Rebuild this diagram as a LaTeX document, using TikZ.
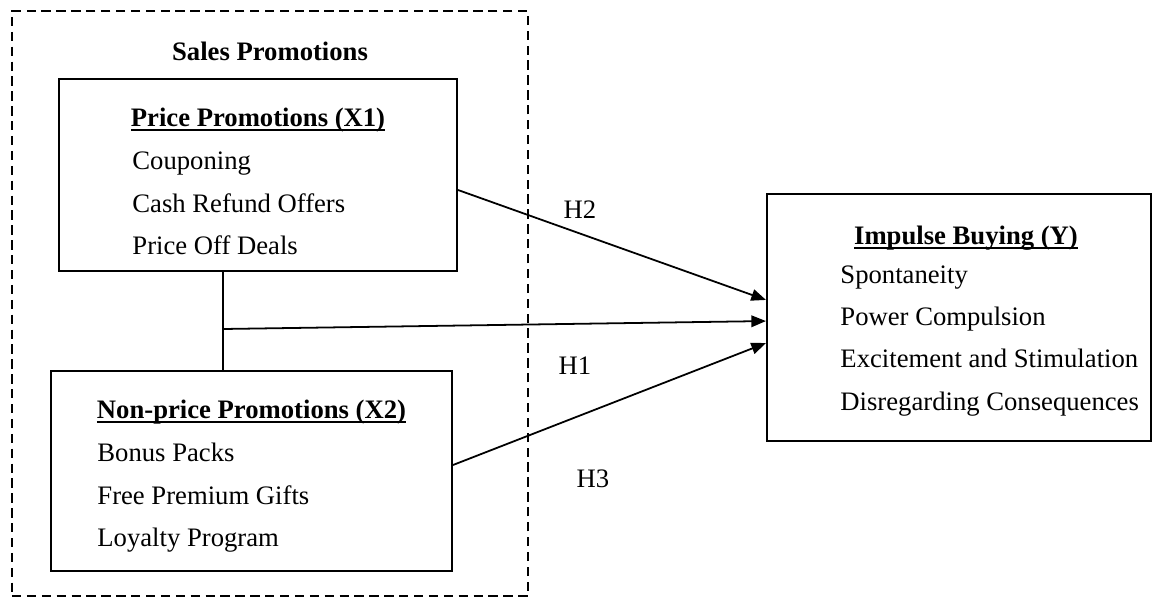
\documentclass[tikz,border=0pt]{standalone}
\usepackage{fontspec}
\setmainfont{Liberation Serif}
\usetikzlibrary{positioning,arrows.meta}

\newcommand{\headline}[1]{\setbox0\hbox{#1}\rlap{\rule[-1.9pt]{\wd0}{0.9pt}}\box0}

\begin{document}
\begin{tikzpicture}[x=0.45pt, y=-0.45pt, >={Triangle[length=6.6pt,width=5.2pt]},
	font=\fontsize{12}{19.1}\selectfont,
	box/.style={draw, line width=0.9pt, inner sep=0pt},
	group/.style={draw, dash pattern=on 4.2pt off 2.5pt, line width=0.8pt, inner sep=0pt},
	head/.style={inner sep=0pt, font=\fontsize{12}{19.1}\selectfont\bfseries},
	items/.style={inner sep=0pt, align=left},
	hyp/.style={inner sep=0pt},
	link/.style={line width=0.8pt}]
	\useasboundingbox (0,0) rectangle (1157,599);

	% Define nodes
	\node (sales) [group, minimum width=232.2pt, minimum height=263.25pt] at (270,303.5) {};
	\node (salestitle) [head, below=14pt of sales.north] {Sales Promotions};

	\node (x1) [box, minimum width=179.1pt, minimum height=86.4pt] at (258,175) {};
	\node (x1title) [head, below=13.4pt of x1.north] {\headline{Price Promotions (X1)}};
	\node (x1items) [items, below right=33.2pt and 33.3pt of x1.north west] {Couponing\\Cash Refund Offers\\Price Off Deals};

	\node (x2) [box, minimum width=180.45pt, minimum height=90pt] at (251.5,471) {};
	\node (x2title) [head, below=13.5pt of x2.north] {\headline{Non-price Promotions (X2)}};
	\node (x2items) [items, below right=32.8pt and 21.15pt of x2.north west] {Bonus Packs\\Free Premium Gifts\\Loyalty Program};

	\node (y) [box, minimum width=172.8pt, minimum height=111.15pt] at (959,317.5) {};
	\node (ytitle) [head, below=14.8pt of y.north, xshift=3.15pt] {\headline{Impulse Buying (Y)}};
	\node (yitems) [items, below right=32.4pt and 33.3pt of y.north west] {Spontaneity\\Power Compulsion\\Excitement and Stimulation\\Disregarding Consequences};

	\coordinate (join) at (223,329);
	\node (h2) [hyp] at (580,210) {H2};
	\node (h1) [hyp] at (575,366) {H1};
	\node (h3) [hyp] at (593,479) {H3};

	% Draw edges
	\path[link]
	(x1.south -| join) edge (x2.north -| join);
	\path[link, ->]
	(join) edge ([yshift=-1.6pt]y.west)
	([yshift=-6.75pt]x1.east) edge ([yshift=7.9pt]y.west)
	([yshift=2.7pt]x2.east) edge ([yshift=-11.5pt]y.west);
\end{tikzpicture}
\end{document}
